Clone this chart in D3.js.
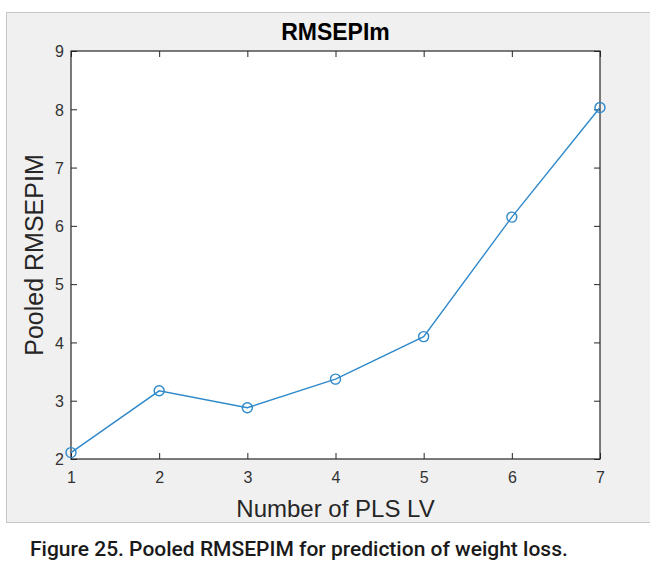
<!DOCTYPE html>
<html>
<head>
<meta charset="utf-8">
<script src="https://cdn.jsdelivr.net/npm/d3@7"></script>
<style>
  html, body { margin: 0; padding: 0; background: #ffffff; }
  svg { display: block; }
</style>
</head>
<body>
<svg id="chart" width="650" height="568"></svg>
<script>
// Pooled RMSEPIM against the number of PLS latent variables
const latentVars = [1, 2, 3, 4, 5, 6, 7];
const rmsepim = [2.11, 3.17, 2.88, 3.37, 4.10, 6.15, 8.03];
const xTicks = [1, 2, 3, 4, 5, 6, 7];
const yTicks = [2, 3, 4, 5, 6, 7, 8, 9];

const titleText = "RMSEPIm";
const xLabel = "Number of PLS LV";
const yLabel = "Pooled RMSEPIM";
const caption = "Figure 25. Pooled RMSEPIM for prediction of weight loss.";

const svg = d3.select("#chart");
const plot = { left: 71, top: 51, right: 600, bottom: 459 };
const axisColor = "#262626";
const tickTextColor = "#333333";
const lineColor = "#2f89cb";
const font = "'Liberation Sans', Arial, sans-serif";

// figure panel
svg.append("rect")
  .attr("x", 6.5).attr("y", 12.5)
  .attr("width", 650).attr("height", 510)
  .attr("fill", "#f0f0f0")
  .attr("stroke", "#c6c6c6").attr("stroke-width", 1);

const x = d3.scaleLinear().domain([1, 7]).range([plot.left, plot.right]);
const y = d3.scaleLinear().domain([2, 9]).range([plot.bottom, plot.top]);

// axes background
svg.append("rect")
  .attr("x", plot.left).attr("y", plot.top)
  .attr("width", plot.right - plot.left).attr("height", plot.bottom - plot.top)
  .attr("fill", "#ffffff");

function styleAxis(g, showLabels) {
  g.select(".domain").remove();
  g.selectAll(".tick line").attr("stroke", axisColor);
  g.selectAll(".tick text")
    .attr("fill", tickTextColor)
    .attr("font-family", font)
    .attr("font-size", 16)
    .style("display", showLabels ? null : "none");
}

// bottom axis (ticks inward)
svg.append("g")
  .attr("transform", `translate(0,${plot.bottom})`)
  .call(d3.axisBottom(x).tickValues(xTicks).tickFormat(d3.format("d")).tickSizeInner(-6).tickSizeOuter(0).tickPadding(13))
  .call(g => styleAxis(g, true));

// top axis (mirrored ticks, no labels)
svg.append("g")
  .attr("transform", `translate(0,${plot.top})`)
  .call(d3.axisTop(x).tickValues(xTicks).tickSizeInner(-6).tickSizeOuter(0))
  .call(g => styleAxis(g, false));

// left axis
svg.append("g")
  .attr("transform", `translate(${plot.left},0)`)
  .call(d3.axisLeft(y).tickValues(yTicks).tickFormat(d3.format("d")).tickSizeInner(-6).tickSizeOuter(0).tickPadding(7))
  .call(g => styleAxis(g, true))
  .call(g => g.selectAll(".tick text").attr("dy", "0.55em").attr("y", -3));

// right axis (mirrored ticks, no labels)
svg.append("g")
  .attr("transform", `translate(${plot.right},0)`)
  .call(d3.axisRight(y).tickValues(yTicks).tickSizeInner(-6).tickSizeOuter(0))
  .call(g => styleAxis(g, false));

// axes box
svg.append("rect")
  .attr("x", plot.left).attr("y", plot.top)
  .attr("width", plot.right - plot.left).attr("height", plot.bottom - plot.top)
  .attr("fill", "none").attr("stroke", axisColor).attr("stroke-width", 1.2);

const pts = latentVars.map((v, i) => [v, rmsepim[i]]);

svg.append("path")
  .datum(pts)
  .attr("fill", "none")
  .attr("stroke", lineColor)
  .attr("stroke-width", 1.4)
  .attr("d", d3.line().x(d => x(d[0])).y(d => y(d[1])));

svg.selectAll("circle.pt")
  .data(pts)
  .join("circle")
  .attr("class", "pt")
  .attr("cx", d => x(d[0]))
  .attr("cy", d => y(d[1]))
  .attr("r", 5)
  .attr("fill", "none")
  .attr("stroke", lineColor)
  .attr("stroke-width", 1.4);

// title
svg.append("text")
  .attr("x", (plot.left + plot.right) / 2).attr("y", 40)
  .attr("text-anchor", "middle")
  .attr("font-family", font).attr("font-weight", "bold").attr("font-size", 23)
  .attr("fill", "#000")
  .text(titleText);

// axis labels
svg.append("text")
  .attr("x", (plot.left + plot.right) / 2).attr("y", 517)
  .attr("text-anchor", "middle")
  .attr("font-family", font).attr("font-size", 24)
  .attr("fill", axisColor)
  .text(xLabel);

svg.append("text")
  .attr("transform", `translate(43,${(plot.top + plot.bottom) / 2}) rotate(-90)`)
  .attr("text-anchor", "middle")
  .attr("font-family", font).attr("font-size", 25)
  .attr("fill", axisColor)
  .text(yLabel);

// caption
svg.append("text")
  .attr("x", 30).attr("y", 556)
  .attr("font-family", "Roboto, sans-serif").attr("font-weight", 500).attr("font-size", 21)
  .attr("fill", "#1a1a1a")
  .text(caption);
</script>
</body>
</html>
